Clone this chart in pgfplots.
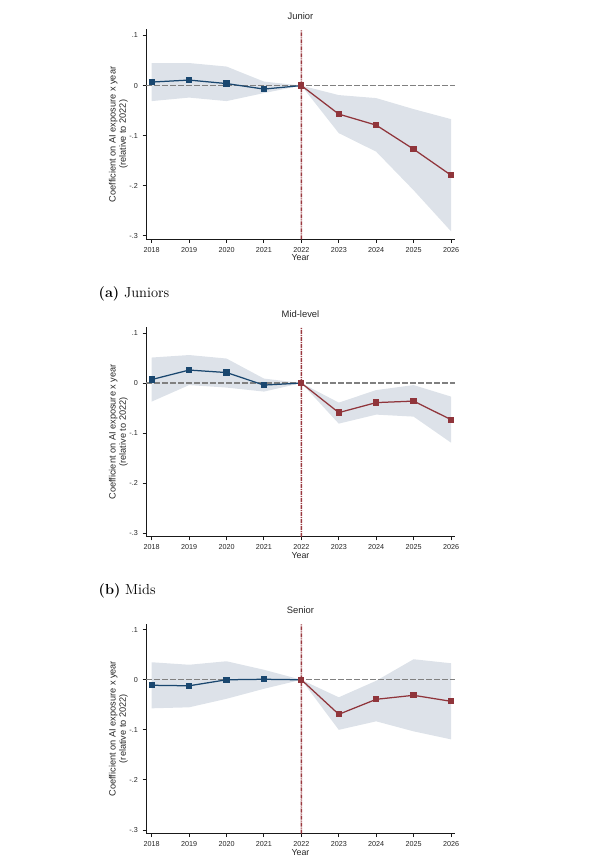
\documentclass[border=0pt]{standalone}
\usepackage{fontspec}
\setsansfont{Liberation Sans}
\usepackage{pgfplots}
\pgfplotsset{compat=1.18}
\definecolor{stnavy}{HTML}{1A476F}
\definecolor{stmaroon}{HTML}{90353B}
\definecolor{vred}{HTML}{9A3A40}
\definecolor{band}{HTML}{DDE2E9}
\definecolor{zline}{HTML}{808080}
\pgfplotsset{
  stata/.style={
    anchor=south west,
    width=309pt, height=209.8pt, scale only axis,
    xmin=2017.848, xmax=2026.107, ymin=-0.307, ymax=0.112,
    axis lines*=left,
    axis line style={line width=1pt, black!90},
    tick align=outside,
    major tick length=3.5pt,
    tick style={line width=0.9pt, black!90},
    xtick={2018,2019,2020,2021,2022,2023,2024,2025,2026},
    xticklabels={2018,2019,2020,2021,2022,2023,2024,2025,2026},
    ytick={-0.3,-0.2,-0.1,0,0.1},
    yticklabels={-.3,-.2,-.1,0,.1},
    ticklabel style={font=\fontsize{7.2}{8}\selectfont\sffamily, text=black!85},
    xticklabel style={yshift=-1.1pt},
    yticklabel style={xshift=-1.1pt},
    xlabel={Year},
    xlabel style={at={(axis description cs:0.5,-0.1034)}, anchor=base, font=\fontsize{8.8}{10}\selectfont\sffamily, text=black!85},
    ylabel={Coefficient on AI exposure x year\\(relative to 2022)},
    ylabel style={at={(axis description cs:-0.0893,0.5)}, anchor=center, align=center, font=\fontsize{9.2}{10.2}\selectfont\sffamily, text=black!85},
    title style={at={(axis description cs:0.5,1)}, anchor=base, yshift=3.8pt, font=\fontsize{9.4}{10}\selectfont\sffamily, text=black!85},
    clip=false,
  },
  myzero/.style={draw=zline, line width=1.2pt, dash pattern=on 5.5pt off 2.5pt},
  myvline/.style={draw=vred, line width=1.5pt, dash pattern=on 4pt off 1pt on 1pt off 1pt},
  mypre/.style={color=stnavy, line width=1.25pt, mark=square*, mark size=2.5pt, mark options={solid, fill=stnavy}},
  mypost/.style={color=stmaroon, line width=1.25pt, mark=square*, mark size=2.5pt, mark options={solid, fill=stmaroon}},
}
\begin{document}
\begin{tikzpicture}
\path[use as bounding box] (0,0) rectangle (592pt,865pt);

% ---------------- Junior ----------------
\begin{axis}[stata, at={(146pt,625.7pt)}, title={Junior}]
\addplot[fill=band, draw=none] coordinates {
 (2018,0.045) (2019,0.045) (2020,0.038) (2021,0.008) (2022,0) (2023,-0.019) (2024,-0.025) (2025,-0.047) (2026,-0.067)
 (2026,-0.291) (2025,-0.209) (2024,-0.132) (2023,-0.095) (2022,0) (2021,-0.015) (2020,-0.031) (2019,-0.024) (2018,-0.031)} -- cycle;
\addplot[myzero] coordinates {(2017.848,0) (2026.107,0)};
\addplot[myvline] coordinates {(2021.999,-0.307) (2022.001,0.112)};
\addplot[mypre] coordinates {(2018,0.007) (2019,0.011) (2020,0.004) (2021,-0.007) (2022,0)};
\addplot[mypost] coordinates {(2022,0) (2023,-0.057) (2024,-0.079) (2025,-0.127) (2026,-0.179)};
\end{axis}
\node[anchor=base west, inner sep=0pt, font=\fontsize{14.5}{16}\selectfont] at (98.5pt,567.7pt) {\textbf{(a)} Juniors};

% ---------------- Mid-level ----------------
\begin{axis}[stata, at={(146pt,328.2pt)}, title={Mid-level}]
\addplot[fill=band, draw=none] coordinates {
 (2018,0.051) (2019,0.056) (2020,0.049) (2021,0.009) (2022,0) (2023,-0.039) (2024,-0.014) (2025,-0.004) (2026,-0.027)
 (2026,-0.119) (2025,-0.067) (2024,-0.063) (2023,-0.081) (2022,0) (2021,-0.017) (2020,-0.009) (2019,-0.004) (2018,-0.037)} -- cycle;
\addplot[myzero] coordinates {(2017.848,0) (2026.107,0)};
\addplot[myvline] coordinates {(2021.999,-0.307) (2022.001,0.112)};
\addplot[mypre] coordinates {(2018,0.007) (2019,0.026) (2020,0.021) (2021,-0.004) (2022,0)};
\addplot[mypost] coordinates {(2022,0) (2023,-0.059) (2024,-0.039) (2025,-0.036) (2026,-0.073)};
\end{axis}
\node[anchor=base west, inner sep=0pt, font=\fontsize{14.5}{16}\selectfont] at (98.5pt,270pt) {\textbf{(b)} Mids};

% ---------------- Senior ----------------
\begin{axis}[stata, at={(146pt,31.5pt)}, title={Senior}]
\addplot[fill=band, draw=none] coordinates {
 (2018,0.035) (2019,0.030) (2020,0.037) (2021,0.020) (2022,0) (2023,-0.035) (2024,-0.002) (2025,0.041) (2026,0.033)
 (2026,-0.119) (2025,-0.103) (2024,-0.083) (2023,-0.100) (2022,0) (2021,-0.018) (2020,-0.038) (2019,-0.055) (2018,-0.057)} -- cycle;
\addplot[myzero] coordinates {(2017.848,0) (2026.107,0)};
\addplot[myvline] coordinates {(2021.999,-0.307) (2022.001,0.112)};
\addplot[mypre] coordinates {(2018,-0.011) (2019,-0.012) (2020,0) (2021,0.001) (2022,0)};
\addplot[mypost] coordinates {(2022,0) (2023,-0.069) (2024,-0.039) (2025,-0.031) (2026,-0.043)};
\end{axis}
\end{tikzpicture}
\end{document}
